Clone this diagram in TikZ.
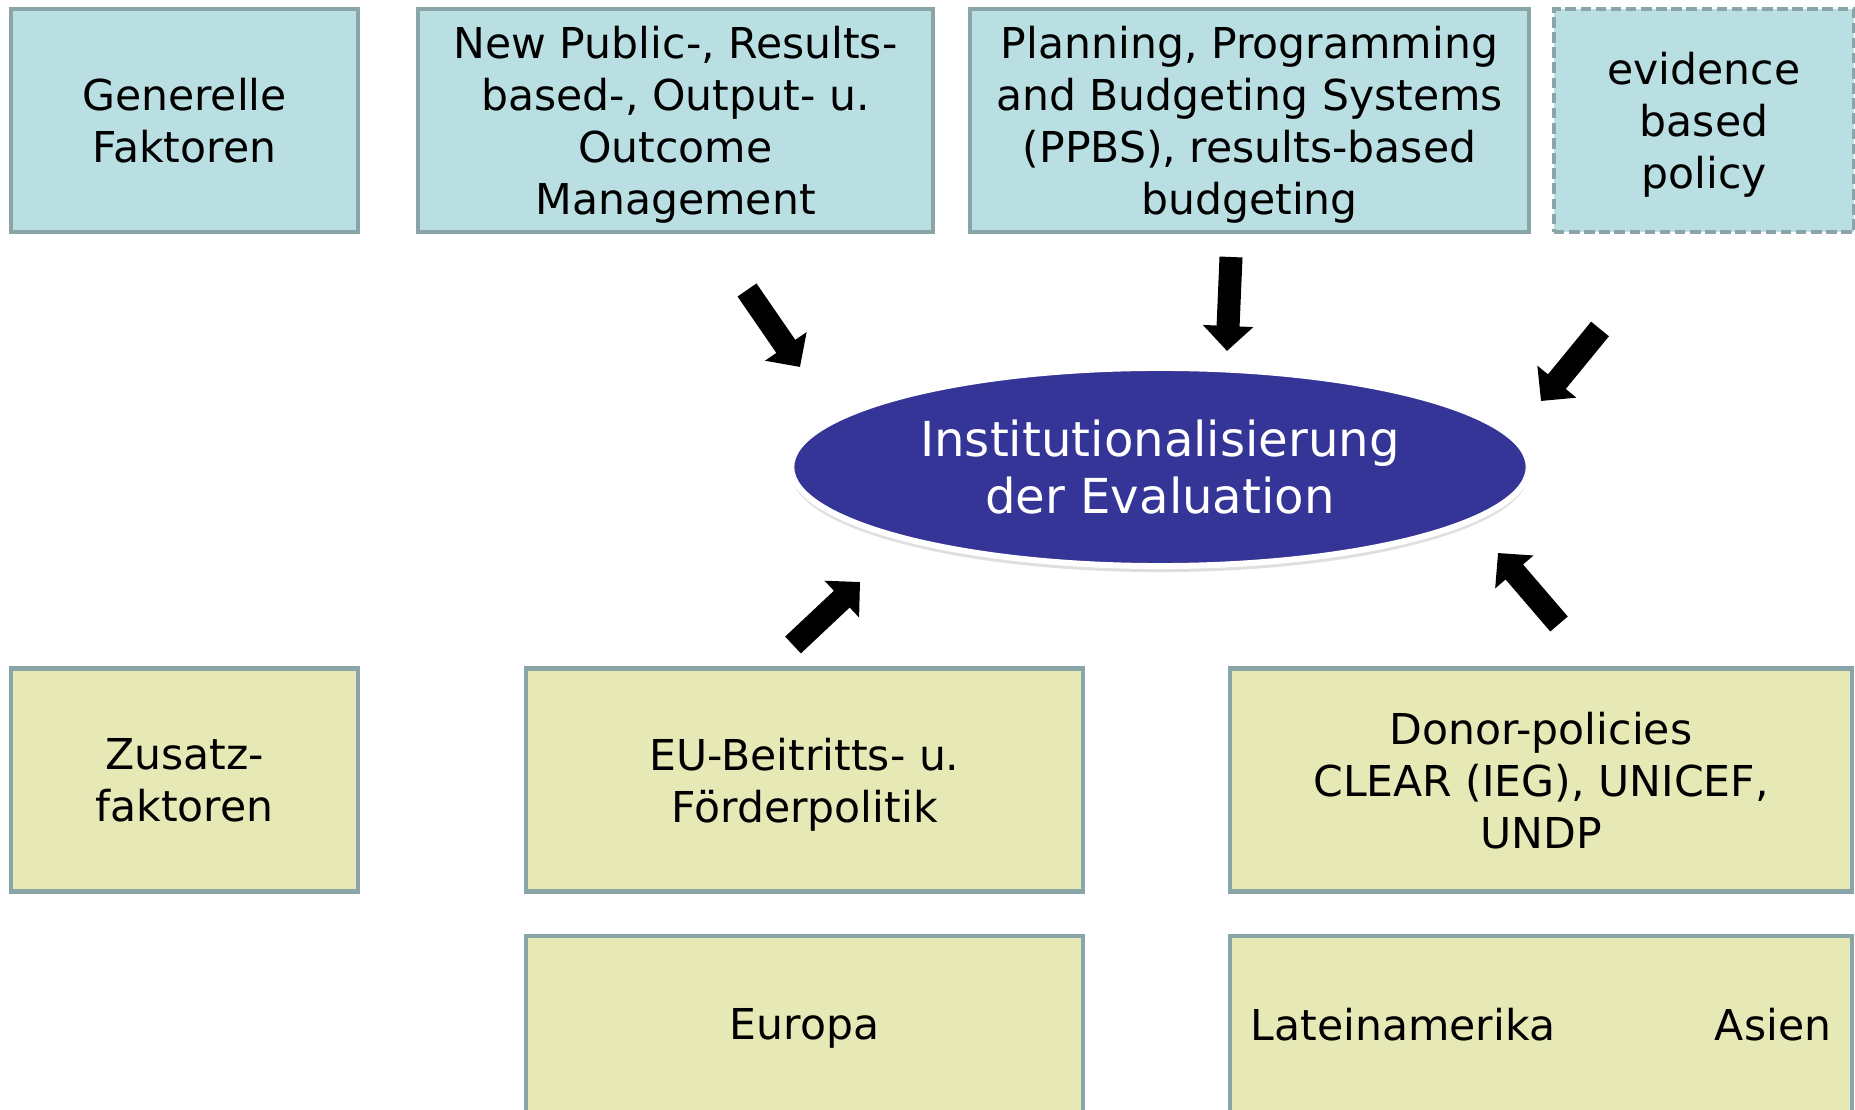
\documentclass[tikz,border=0pt]{standalone}
\usepackage{fontspec}
\setmainfont{DejaVu Sans}
\usepackage{tikz}
\usetikzlibrary{shapes.geometric}
\usetikzlibrary{shadows}
\usetikzlibrary{arrows.meta}
\definecolor{boxline}{HTML}{8AA5A7}
\definecolor{topfill}{HTML}{BADFE2}
\definecolor{lowfill}{HTML}{E6E9B5}
\definecolor{evalblue}{HTML}{353598}
\newcommand{\bxfont}{\fontsize{12.1}{14.8}\selectfont}
\newcommand{\elfont}{\fontsize{13.7}{16.2}\selectfont}
\tikzset{topbox/.style={draw=boxline,fill=topfill,line width=0.45mm,align=center,inner sep=0pt,minimum height=2.23cm,font=\bxfont,text depth=-2pt}}
\tikzset{lowbox/.style={topbox,fill=lowfill}}
\tikzset{bigarrow/.style={line width=2.3mm,-{Triangle[width=4.9mm,length=2.5mm]}}}

\begin{document}
\begin{tikzpicture}[x=0.01cm,y=-0.01cm]
                    \useasboundingbox (0,0) rectangle (1855,1110);

                    \node[topbox,minimum width=3.47cm] (G) at (184.5,120.5) {Generelle\\Faktoren};
                    \node[topbox,minimum width=5.15cm,text depth=-1pt] (N) at (675.5,120.5) {New Public-, Results-\\based-, Output- u.\\Outcome\\Management};
                    \node[topbox,minimum width=5.59cm,text depth=-1pt] (P) at (1249.5,120.5) {Planning, Programming\\and Budgeting Systems\\(PPBS), results-based\\budgeting};
                    \node[topbox,minimum width=3.00cm,text depth=-1pt,dash pattern=on 3pt off 1.3pt] (E) at (1704,120.5) {evidence\\based\\policy};

                    \node[ellipse,fill=evalblue,draw=white,line width=0.6mm,minimum width=7.37cm,minimum height=1.98cm,
                          text=white,font=\elfont,align=center,inner sep=0pt,
                          drop shadow={opacity=0.25,shadow xshift=0mm,shadow yshift=-0.6mm}] (I) at (1160,467) {Institutionalisierung\\der Evaluation};

                    \node[lowbox,minimum width=3.47cm] (Z) at (184.5,780) {Zusatz-\\faktoren};
                    \node[lowbox,minimum width=5.57cm] (EU) at (804.5,780) {EU-Beitritts- u.\\Förderpolitik};
                    \node[lowbox,minimum width=6.22cm] (D) at (1541,780) {Donor-policies\\CLEAR (IEG), UNICEF,\\UNDP};
                    \node[lowbox,minimum width=5.57cm,minimum height=1.76cm,text depth=-0.5pt] (EUR) at (804.5,1024) {Europa};
                    \node[lowbox,minimum width=6.22cm,minimum height=1.76cm,text depth=-1pt,text width=5.8cm,align=left] (LA) at (1541,1024) {Lateinamerika\hfill Asien};

                    \coordinate (a1) at (747,290);  \coordinate (b1) at (800,367);
                    \coordinate (a2) at (1231,257); \coordinate (b2) at (1227,351);
                    \coordinate (a3) at (1600,329); \coordinate (b3) at (1541,401);
                    \coordinate (a4) at (793,645);  \coordinate (b4) at (860,582);
                    \coordinate (a5) at (1559,624); \coordinate (b5) at (1498,553);

                    \draw[bigarrow] (a1) -- (b1);
                    \draw[bigarrow] (a2) -- (b2);
                    \draw[bigarrow] (a3) -- (b3);
                    \draw[bigarrow] (a4) -- (b4);
                    \draw[bigarrow] (a5) -- (b5);
                \end{tikzpicture}
\end{document}
